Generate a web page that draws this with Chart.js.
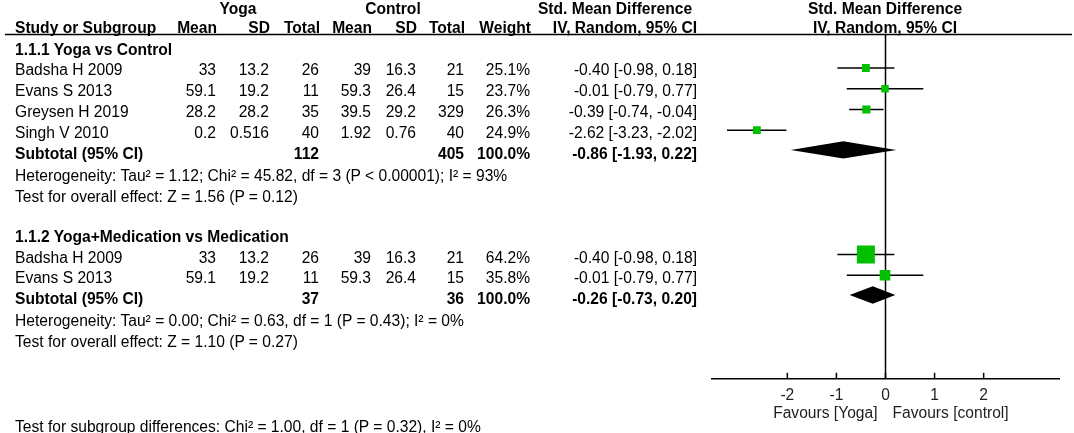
<!DOCTYPE html>
<html><head><meta charset="utf-8">
<script src="https://cdn.jsdelivr.net/npm/chart.js@4.4.1/dist/chart.umd.min.js"></script>
<style>
html,body{margin:0;padding:0;background:#fff;}
#wrap{position:relative;width:1074px;height:433px;overflow:hidden;font-family:"Liberation Sans",Arial,sans-serif;font-size:15.6px;color:#000;}
#wrap canvas{position:absolute;left:0;top:0;}
.t{position:absolute;white-space:nowrap;line-height:18px;height:18px;}
.b{font-weight:bold;}
</style></head><body>
<div id="wrap"><canvas id="c" width="1074" height="433"></canvas></div>
<script>
// ---------- data ----------
const groupNames = ['1.1.1 Yoga vs Control', '1.1.2 Yoga+Medication vs Medication'];
const studyNames = ['Badsha H 2009', 'Evans S 2013', 'Greysen H 2019', 'Singh V 2010', 'Badsha H 2009', 'Evans S 2013'];
const studyGroup = [0, 0, 0, 0, 1, 1];
const yogaMean = [33, 59.1, 28.2, 0.2, 33, 59.1];
const yogaSD = [13.2, 19.2, 28.2, 0.516, 13.2, 19.2];
const yogaTotal = [26, 11, 35, 40, 26, 11];
const controlMean = [39, 59.3, 39.5, 1.92, 39, 59.3];
const controlSD = [16.3, 26.4, 29.2, 0.76, 16.3, 26.4];
const controlTotal = [21, 15, 329, 40, 21, 15];
const studyWeight = [25.1, 23.7, 26.3, 24.9, 64.2, 35.8];
const studySMD = [-0.40, -0.01, -0.39, -2.62, -0.40, -0.01];
const studyLow = [-0.98, -0.79, -0.74, -3.23, -0.98, -0.79];
const studyHigh = [0.18, 0.77, -0.04, -2.02, 0.18, 0.77];
const subYogaTotal = [112, 37];
const subControlTotal = [405, 36];
const subWeight = [100.0, 100.0];
const subSMD = [-0.86, -0.26];
const subLow = [-1.93, -0.73];
const subHigh = [0.22, 0.20];
const heterogeneity = [
  'Heterogeneity: Tau² = 1.12; Chi² = 45.82, df = 3 (P < 0.00001); I² = 93%',
  'Heterogeneity: Tau² = 0.00; Chi² = 0.63, df = 1 (P = 0.43); I² = 0%'
];
const overallEffect = [
  'Test for overall effect: Z = 1.56 (P = 0.12)',
  'Test for overall effect: Z = 1.10 (P = 0.27)'
];
const subgroupTest = 'Test for subgroup differences: Chi² = 1.00, df = 1 (P = 0.32), I² = 0%';
const tickValues = [-2, -1, 0, 1, 2];
const axisMin = -3.535, axisMax = 3.535;
const favourLeft = 'Favours [Yoga]', favourRight = 'Favours [control]';

// ---------- row layout ----------
const studyRows = [], subtotalRows = [], headerRows = [], hetRows = [], testRows = [];
let row = 0;
groupNames.forEach((g, gi) => {
  headerRows.push(row++);
  studyGroup.forEach((sg, i) => { if (sg === gi) studyRows[i] = row++; });
  subtotalRows.push(row++);
  hetRows.push(row++);
  testRows.push(row++);
  row++;
});

const W = 1074;
const wrap = document.getElementById('wrap');
function addText(str, x, y, align, bold) {
  const d = document.createElement('div');
  d.className = 't' + (bold ? ' b' : '');
  d.textContent = str;
  d.style.top = (y - 9) + 'px';
  if (align === 'right') d.style.right = (W - x) + 'px';
  else if (align === 'center') { d.style.left = (x - 200) + 'px'; d.style.width = '400px'; d.style.textAlign = 'center'; }
  else d.style.left = x + 'px';
  wrap.appendChild(d);
  return d;
}
const f2 = v => v.toFixed(2);
const ciText = (e, l, h) => f2(e) + ' [' + f2(l) + ', ' + f2(h) + ']';
const rowY = r => 49.5 + 20.8 * r;
const colX = [216, 269, 319, 371, 416, 464, 530, 697];

// headers
addText('Yoga', 238, 8.5, 'center', true);
addText('Control', 393, 8.5, 'center', true);
addText('Std. Mean Difference', 615, 8.5, 'center', true);
addText('Std. Mean Difference', 885, 8.5, 'center', true);
addText('Study or Subgroup', 15, 28, 'left', true);
['Mean', 'SD', 'Total', 'Mean', 'SD', 'Total', 'Weight', 'IV, Random, 95% CI'].forEach((h, i) =>
  addText(h, colX[i] + (i < 7 ? 1 : 0), 28, 'right', true));
addText('IV, Random, 95% CI', 885, 28, 'center', true);

// groups
groupNames.forEach((g, gi) => {
  addText(g, 15, rowY(headerRows[gi]), 'left', true);
  const sy = rowY(subtotalRows[gi]);
  addText('Subtotal (95% CI)', 15, sy, 'left', true);
  addText(String(subYogaTotal[gi]), colX[2], sy, 'right', true);
  addText(String(subControlTotal[gi]), colX[5], sy, 'right', true);
  addText(subWeight[gi].toFixed(1) + '%', colX[6], sy, 'right', true);
  addText(ciText(subSMD[gi], subLow[gi], subHigh[gi]), colX[7], sy, 'right', true);
  addText(heterogeneity[gi], 15, rowY(hetRows[gi]) + 1.5, 'left', false);
  addText(overallEffect[gi], 15, rowY(testRows[gi]) + 1.5, 'left', false);
});
studyNames.forEach((s, i) => {
  const y = rowY(studyRows[i]);
  addText(s, 15, y, 'left', false);
  const vals = [yogaMean[i], yogaSD[i], yogaTotal[i], controlMean[i], controlSD[i], controlTotal[i]];
  vals.forEach((v, k) => addText(String(v), colX[k], y, 'right', false));
  addText(studyWeight[i].toFixed(1) + '%', colX[6], y, 'right', false);
  addText(ciText(studySMD[i], studyLow[i], studyHigh[i]), colX[7], y, 'right', false);
});
addText(subgroupTest, 15, 426.5, 'left', false);

// ---------- chart ----------
const yMin = -0.544, yMax = 15.97;
const forestPlugin = {
  id: 'forest',
  beforeDatasetsDraw(chart) {
    const { ctx, chartArea, scales: { x, y } } = chart;
    ctx.save();
    ctx.strokeStyle = '#000';
    ctx.lineWidth = 1.5;
    ctx.beginPath(); ctx.moveTo(5, chartArea.top - 1.5); ctx.lineTo(1072, chartArea.top - 1.5); ctx.stroke();
    const x0 = x.getPixelForValue(0);
    ctx.beginPath(); ctx.moveTo(x0, chartArea.top - 1.5); ctx.lineTo(x0, chartArea.bottom); ctx.stroke();
    tickValues.forEach(v => {
      const px = x.getPixelForValue(v);
      ctx.beginPath(); ctx.moveTo(px, chartArea.bottom - 5.5); ctx.lineTo(px, chartArea.bottom); ctx.stroke();
    });
    studyRows.forEach((r, i) => {
      const yy = y.getPixelForValue(r);
      ctx.beginPath();
      ctx.moveTo(x.getPixelForValue(studyLow[i]), yy);
      ctx.lineTo(x.getPixelForValue(studyHigh[i]), yy);
      ctx.stroke();
    });
    ctx.fillStyle = '#000';
    subtotalRows.forEach((r, g) => {
      const yy = y.getPixelForValue(r) - 1;
      const h = 8.7;
      ctx.beginPath();
      ctx.moveTo(x.getPixelForValue(subLow[g]), yy);
      ctx.lineTo(x.getPixelForValue(subSMD[g]), yy - h);
      ctx.lineTo(x.getPixelForValue(subHigh[g]), yy);
      ctx.lineTo(x.getPixelForValue(subSMD[g]), yy + h);
      ctx.closePath();
      ctx.fill();
    });
    ctx.restore();
  }
};

const chart = new Chart(document.getElementById('c'), {
  type: 'scatter',
  data: {
    datasets: [{
      label: 'Std. Mean Difference',
      data: studySMD.map((v, i) => ({ x: v, y: studyRows[i] })),
      pointStyle: 'rect',
      pointRadius: studyWeight.map(w => (0.26 * w + 1.3) / Math.SQRT2),
      pointHoverRadius: studyWeight.map(w => (0.26 * w + 1.3) / Math.SQRT2),
      backgroundColor: '#00c000',
      borderWidth: 0
    }]
  },
  options: {
    responsive: false,
    animation: false,
    events: [],
    layout: { padding: { left: 712, right: 15, top: 36, bottom: 20 } },
    plugins: { legend: { display: false }, tooltip: { enabled: false } },
    scales: {
      x: {
        type: 'linear', position: 'bottom', min: axisMin, max: axisMax,
        afterBuildTicks: s => { s.ticks = tickValues.map(v => ({ value: v })); },
        grid: { display: false, drawTicks: false },
        border: { display: true, color: '#000', width: 1.5 },
        ticks: {
          padding: 8, color: '#222', autoSkip: false, maxRotation: 0,
          font: { family: '"Liberation Sans", Arial, sans-serif', size: 15.6 },
          callback: v => String(v)
        }
      },
      y: { type: 'linear', display: false, min: yMin, max: yMax, reverse: true }
    }
  },
  plugins: [forestPlugin]
});

const x0px = chart.scales.x.getPixelForValue(0);
const fl = addText(favourLeft, x0px - 8, 413, 'right', false); fl.style.color = '#222';
const fr = addText(favourRight, x0px + 7, 413, 'left', false); fr.style.color = '#222';
</script>
</body></html>
